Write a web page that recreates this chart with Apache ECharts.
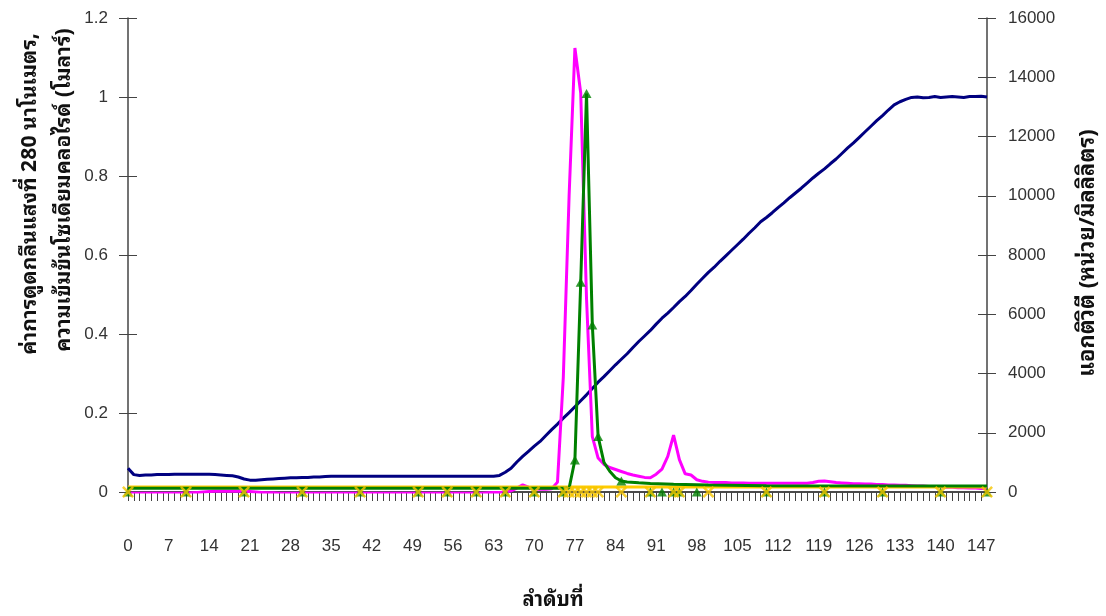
<!DOCTYPE html>
<html>
<head>
<meta charset="utf-8">
<script src="https://cdn.jsdelivr.net/npm/echarts@6/dist/echarts.min.js"></script>
<style>
  html, body { margin: 0; padding: 0; background: #fff; }
  #chart { width: 1106px; height: 616px; }
</style>
</head>
<body>
<div id="chart"></div>
<script>
// NaCl concentration (M), one reading per fraction 0..148
const naclConc = [
  0.060, 0.044, 0.042, 0.043, 0.043, 0.044, 0.044, 0.044, 0.045, 0.045,
  0.045, 0.045, 0.045, 0.045, 0.045, 0.044, 0.043, 0.042, 0.041, 0.038,
  0.033, 0.030, 0.030, 0.031, 0.032, 0.033, 0.034, 0.035, 0.036, 0.036,
  0.037, 0.037, 0.038, 0.038, 0.039, 0.040, 0.040, 0.040, 0.040, 0.040,
  0.040, 0.040, 0.040, 0.040, 0.040, 0.040, 0.040, 0.040, 0.040, 0.040,
  0.040, 0.040, 0.040, 0.040, 0.040, 0.040, 0.040, 0.040, 0.040, 0.040,
  0.040, 0.040, 0.040, 0.040, 0.042, 0.050, 0.060, 0.076, 0.090, 0.103,
  0.116, 0.128, 0.143, 0.158, 0.172, 0.187, 0.201, 0.216, 0.231, 0.246,
  0.262, 0.278, 0.292, 0.307, 0.322, 0.336, 0.350, 0.366, 0.381, 0.395,
  0.409, 0.425, 0.440, 0.453, 0.467, 0.482, 0.495, 0.510, 0.526, 0.541,
  0.556, 0.569, 0.584, 0.598, 0.612, 0.626, 0.640, 0.655, 0.669, 0.684,
  0.695, 0.707, 0.720, 0.732, 0.745, 0.757, 0.769, 0.782, 0.795, 0.807,
  0.818, 0.831, 0.843, 0.857, 0.871, 0.884, 0.898, 0.912, 0.926, 0.940,
  0.953, 0.967, 0.980, 0.988, 0.994, 0.999, 1.000, 0.998, 0.999, 1.001,
  0.999, 1.000, 1.001, 1.000, 0.999, 1.001, 1.001, 1.002, 1.000
];

// Absorbance at 280 nm, one reading per fraction 0..148
const a280 = [
  -0.003, -0.003, -0.003, -0.003, -0.003, -0.003, -0.003, -0.003, -0.003, -0.003,
  -0.003, -0.002, -0.001, 0.000, 0.001, 0.002, 0.002, 0.002, 0.002, 0.002,
  0.002, 0.001, 0.000, -0.001, -0.002, -0.002, -0.003, -0.003, -0.003, -0.003,
  -0.003, -0.003, -0.003, -0.003, -0.003, -0.003, -0.003, -0.003, -0.003, -0.003,
  -0.003, -0.003, -0.003, -0.003, -0.003, -0.003, -0.003, -0.003, -0.003, -0.003,
  -0.003, -0.003, -0.003, -0.003, -0.003, -0.003, -0.003, -0.003, -0.003, -0.003,
  -0.003, -0.003, -0.002, -0.001, -0.001, 0.000, 0.003, 0.010, 0.018, 0.012,
  0.008, 0.007, 0.007, 0.008, 0.025, 0.290, 0.750, 1.124, 1.010, 0.490,
  0.140, 0.086, 0.070, 0.062, 0.057, 0.052, 0.047, 0.043, 0.040, 0.037,
  0.036, 0.045, 0.058, 0.090, 0.144, 0.082, 0.046, 0.043, 0.031, 0.027,
  0.025, 0.024, 0.024, 0.024, 0.023, 0.023, 0.023, 0.022, 0.022, 0.022,
  0.022, 0.022, 0.022, 0.022, 0.022, 0.022, 0.022, 0.022, 0.024, 0.027,
  0.028, 0.026, 0.024, 0.023, 0.022, 0.021, 0.021, 0.020, 0.020, 0.019,
  0.019, 0.018, 0.018, 0.017, 0.017, 0.016, 0.015, 0.015, 0.014, 0.014,
  0.013, 0.012, 0.012, 0.011, 0.011, 0.010, 0.010, 0.009, 0.009
];

// Activity curve (units/ml)
const activityCurveX = [0, 70, 74, 76, 77, 78, 79, 80, 81, 82, 83, 84, 85, 86, 88, 90, 94, 100, 110, 148];
const activityCurveY = [125, 125, 125, 125, 1080, 7080, 13450, 5640, 1870, 1000, 700, 480, 372, 340, 310, 290, 260, 236, 215, 205];

// Activity assay points (units/ml)
const activityPointX = [0, 10, 20, 30, 40, 50, 55, 60, 65, 70, 75, 77, 78, 79, 80, 81, 85, 90, 92, 94, 95, 98, 110, 120, 130, 140, 148];
const activityPointY = [0, 0, 0, 0, 0, 0, 0, 0, 0, 0, 0, 1080, 7080, 13450, 5640, 1870, 372, 0, 0, 0, 0, 0, 0, 0, 0, 0, 0];

// Second activity assay: baseline trace and assay points (units/ml)
const activity2CurveX = [0, 148];
const activity2CurveY = [170, 170];
const activity2PointX = [0, 10, 20, 30, 40, 50, 55, 60, 65, 70, 75, 76, 77, 78, 79, 80, 81, 85, 90, 94, 95, 100, 110, 120, 130, 140, 148];
const activity2PointY = [0, 0, 0, 0, 0, 0, 0, 0, 0, 0, 0, 0, 0, 0, 0, 0, 0, 0, 0, 0, 0, 0, 0, 0, 0, 0, 0];

// Axis scales and titles
const leftAxisMax = 1.2, leftAxisStep = 0.2;
const rightAxisMax = 16000, rightAxisStep = 2000;
const xAxisMax = 148, xLabelStep = 7;
const leftTitle1 = 'ค่าการดูดกลืนแสงที่ 280 นาโนเมตร,';
const leftTitle2 = 'ความเข้มข้นโซเดียมคลอไรด์ (โมลาร์)';
const rightTitle = 'แอกติวิตี (หน่วย/มิลลิลิตร)';
const xTitle = 'ลำดับที่';

const pairs = (xs, ys) => xs.map((x, i) => [x, ys[i]]);
const byFraction = ys => ys.map((y, i) => [i, y]);

const numFont = "'Liberation Sans', Arial, sans-serif";
const thaiFont = "'Noto Sans Thai Looped', 'Noto Sans Thai', 'Noto Sans', 'DejaVu Sans', sans-serif";
// filled "x" marker outline
const crossSymbol = 'path://M0,1.5 L1.5,0 L5,3.5 L8.5,0 L10,1.5 L6.5,5 L10,8.5 L8.5,10 L5,6.5 L1.5,10 L0,8.5 L3.5,5 Z';

const chart = echarts.init(document.getElementById('chart'), null, { renderer: 'canvas' });

const yBase = {
  type: 'value',
  splitLine: { show: false },
  axisLine: { show: true, lineStyle: { color: '#444', width: 1.5 } },
};

chart.setOption({
  animation: false,
  backgroundColor: '#fff',
  grid: { left: 128, right: 119, top: 18, bottom: 124, containLabel: false },
  xAxis: {
    type: 'value', min: 0, max: xAxisMax, interval: 1,
    splitLine: { show: false },
    axisLine: { onZero: false, lineStyle: { color: '#111', width: 1.5 } },
    axisTick: { show: true, inside: false, length: 9, lineStyle: { color: '#444', width: 1 } },
    axisLabel: {
      margin: 46, fontSize: 17, color: '#333', fontFamily: numFont,
      showMaxLabel: false,
      formatter: v => (v % xLabelStep === 0 ? String(v) : '')
    }
  },
  yAxis: [
    Object.assign({}, yBase, {
      position: 'left', min: 0, max: leftAxisMax, interval: leftAxisStep,
      axisTick: { show: true, inside: false, length: 9, lineStyle: { color: '#444' } },
      axisLabel: { margin: 20, fontSize: 17, color: '#333', fontFamily: numFont }
    }),
    Object.assign({}, yBase, {
      position: 'right', min: 0, max: rightAxisMax, interval: rightAxisStep,
      axisTick: { show: true, inside: false, length: 9, lineStyle: { color: '#444' } },
      axisLabel: { margin: 21, fontSize: 17, color: '#333', fontFamily: numFont,
                   formatter: v => String(v) }
    }),
    Object.assign({}, yBase, {
      position: 'left', min: 0, max: leftAxisMax, interval: leftAxisStep,
      axisLine: { show: false },
      axisTick: { show: true, inside: true, length: 9, lineStyle: { color: '#444' } },
      axisLabel: { show: false }
    }),
    Object.assign({}, yBase, {
      position: 'right', min: 0, max: rightAxisMax, interval: rightAxisStep,
      axisLine: { show: false },
      axisTick: { show: true, inside: true, length: 9, lineStyle: { color: '#444' } },
      axisLabel: { show: false }
    })
  ],
  series: [
    {
      name: 'NaCl', type: 'line', yAxisIndex: 0, showSymbol: false,
      data: byFraction(naclConc),
      lineStyle: { color: '#000080', width: 3 }, itemStyle: { color: '#000080' }, z: 2
    },
    {
      name: 'A280', type: 'line', yAxisIndex: 0, showSymbol: false,
      data: byFraction(a280),
      lineStyle: { color: '#ff00ff', width: 3 }, itemStyle: { color: '#ff00ff' }, z: 3
    },
    {
      name: 'activity2 trace', type: 'line', yAxisIndex: 1, showSymbol: false,
      data: pairs(activity2CurveX, activity2CurveY),
      lineStyle: { color: '#ffcc00', width: 3 }, itemStyle: { color: '#ffcc00' }, z: 4
    },
    {
      name: 'activity trace', type: 'line', yAxisIndex: 1, showSymbol: false,
      data: pairs(activityCurveX, activityCurveY),
      lineStyle: { color: '#008000', width: 3 }, itemStyle: { color: '#008000' }, z: 5
    },
    {
      name: 'activity', type: 'scatter', yAxisIndex: 1,
      data: pairs(activityPointX, activityPointY),
      symbol: 'triangle', symbolSize: [10, 9],
      itemStyle: { color: '#008000' }, z: 6
    },
    {
      name: 'activity2', type: 'scatter', yAxisIndex: 1,
      data: pairs(activity2PointX, activity2PointY),
      symbol: crossSymbol, symbolSize: 12,
      itemStyle: { color: '#f5c400' }, z: 7
    }
  ],
  graphic: [
    {
      type: 'text', x: 30, y: 194, rotation: Math.PI / 2,
      style: { text: leftTitle1, fontSize: 21, fontWeight: 'bold', fill: '#111', fontFamily: thaiFont,
               align: 'center', verticalAlign: 'middle' }
    },
    {
      type: 'text', x: 64, y: 190, rotation: Math.PI / 2,
      style: { text: leftTitle2, fontSize: 21, fontWeight: 'bold', fill: '#111', fontFamily: thaiFont,
               align: 'center', verticalAlign: 'middle' }
    },
    {
      type: 'text', x: 1088, y: 253, rotation: Math.PI / 2,
      style: { text: rightTitle, fontSize: 22, fontWeight: 'bold', fill: '#111', fontFamily: thaiFont,
               align: 'center', verticalAlign: 'middle' }
    },
    {
      type: 'text', x: 553, y: 600,
      style: { text: xTitle, fontSize: 20, fontWeight: 'bold', fill: '#111', fontFamily: thaiFont,
               align: 'center', verticalAlign: 'middle' }
    }
  ]
});
</script>
</body>
</html>
